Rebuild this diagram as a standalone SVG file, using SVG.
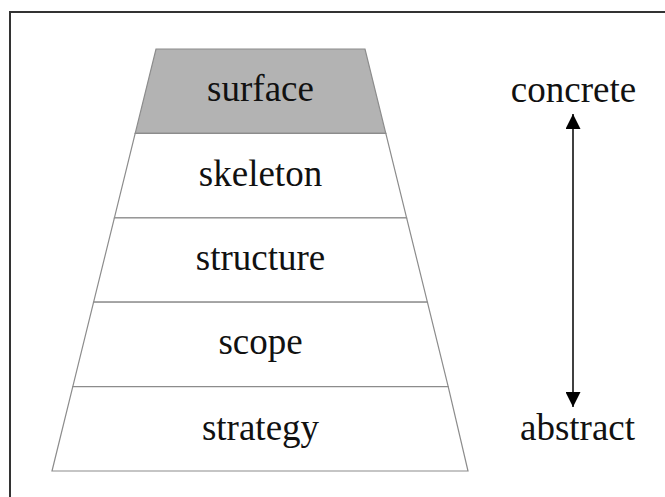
<svg xmlns="http://www.w3.org/2000/svg" width="665" height="497" viewBox="0 0 665 497">
<style>
.layer{fill:#ffffff;stroke:#8c8c8c;stroke-width:1.2}
.top{fill:#b3b3b3}
.lbl{font-family:"Liberation Serif","Times New Roman",serif;font-size:37px;fill:#111;text-anchor:middle}
.conn{stroke:#000;stroke-width:1.5;fill:none}
</style>
<defs>
<marker id="ah" viewBox="0 0 15 15" refX="15" refY="7.5" markerWidth="15" markerHeight="15" markerUnits="userSpaceOnUse" orient="auto-start-reverse">
<path d="M0,0 L15,7.5 L0,15 Z" fill="#000"/>
</marker>
</defs>
<rect x="0" y="0" width="665" height="497" fill="#fff"/>
<path d="M10,497 L10,12 L665,12" fill="none" stroke="#333" stroke-width="2"/>
<g id="surface">
<polygon class="layer top" points="156,49 365,49 385.8,133.4 135.2,133.4"/>
<text class="lbl" x="260.5" y="101">surface</text>
</g>
<g id="skeleton">
<polygon class="layer" points="135.2,133.4 385.8,133.4 406.6,217.8 114.4,217.8"/>
<text class="lbl" x="260.5" y="186">skeleton</text>
</g>
<g id="structure">
<polygon class="layer" points="114.4,217.8 406.6,217.8 427.4,302.2 93.6,302.2"/>
<text class="lbl" x="260.5" y="270">structure</text>
</g>
<g id="scope">
<polygon class="layer" points="93.6,302.2 427.4,302.2 448.2,386.6 72.8,386.6"/>
<text class="lbl" x="260.5" y="354">scope</text>
</g>
<g id="strategy">
<polygon class="layer" points="72.8,386.6 448.2,386.6 468,471 52,471"/>
<text class="lbl" x="260.5" y="440">strategy</text>
</g>
<g id="concrete">
<text class="lbl" x="573.5" y="102">concrete</text>
</g>
<g id="abstract">
<text class="lbl" x="577.5" y="440">abstract</text>
</g>
<g id="connectors">
<line class="conn" x1="573" y1="114" x2="573" y2="407" marker-start="url(#ah)" marker-end="url(#ah)"/>
</g>
</svg>
